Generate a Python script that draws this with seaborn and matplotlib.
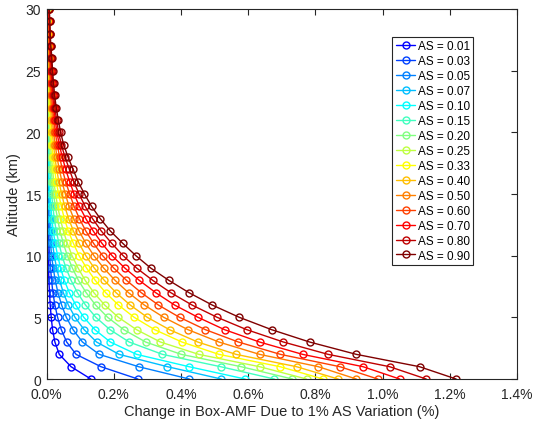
import numpy as np
import pandas as pd
import matplotlib
matplotlib.use("Agg")
import matplotlib.pyplot as plt
import seaborn as sns

# ---- data -------------------------------------------------------------
altitude_km = list(range(0, 31))

as_labels = ["0.01", "0.03", "0.05", "0.07", "0.10", "0.15", "0.20", "0.25",
             "0.33", "0.40", "0.50", "0.60", "0.70", "0.80", "0.90"]

# change in Box-AMF (%) for each surface albedo, altitude 0..30 km
as_001 = [0.132, 0.073, 0.038, 0.025, 0.018, 0.014, 0.011, 0.009, 0.007, 0.006, 0.005,
          0.004, 0.004, 0.003, 0.003, 0.003, 0.002, 0.002, 0.002, 0.002, 0.002,
          0.002, 0.001, 0.001, 0.001, 0.001, 0.001, 0.001, 0.001, 0.001, 0.001]
as_003 = [0.272, 0.162, 0.088, 0.060, 0.044, 0.033, 0.025, 0.019, 0.015, 0.012, 0.009,
          0.007, 0.006, 0.005, 0.004, 0.003, 0.003, 0.002, 0.002, 0.002, 0.002,
          0.002, 0.002, 0.002, 0.001, 0.001, 0.001, 0.001, 0.001, 0.001, 0.001]
as_005 = [0.425, 0.274, 0.157, 0.107, 0.079, 0.059, 0.045, 0.034, 0.026, 0.020, 0.015,
          0.012, 0.009, 0.007, 0.006, 0.005, 0.004, 0.003, 0.003, 0.002, 0.002,
          0.002, 0.002, 0.002, 0.002, 0.001, 0.001, 0.001, 0.001, 0.001, 0.001]
as_007 = [0.520, 0.360, 0.216, 0.149, 0.112, 0.085, 0.065, 0.050, 0.039, 0.030, 0.023,
          0.018, 0.014, 0.011, 0.009, 0.007, 0.006, 0.005, 0.004, 0.003, 0.003,
          0.002, 0.002, 0.002, 0.002, 0.001, 0.001, 0.001, 0.001, 0.001, 0.001]
as_010 = [0.591, 0.424, 0.268, 0.190, 0.144, 0.111, 0.087, 0.068, 0.053, 0.042, 0.033,
          0.026, 0.020, 0.016, 0.013, 0.010, 0.008, 0.006, 0.005, 0.004, 0.004,
          0.003, 0.003, 0.002, 0.002, 0.002, 0.002, 0.002, 0.001, 0.001, 0.001]
as_015 = [0.678, 0.518, 0.345, 0.246, 0.189, 0.147, 0.116, 0.092, 0.073, 0.058, 0.046,
          0.037, 0.029, 0.023, 0.019, 0.015, 0.012, 0.010, 0.008, 0.006, 0.005,
          0.004, 0.004, 0.003, 0.003, 0.002, 0.002, 0.002, 0.002, 0.002, 0.002]
as_020 = [0.732, 0.579, 0.401, 0.295, 0.230, 0.182, 0.146, 0.118, 0.095, 0.077, 0.062,
          0.050, 0.040, 0.033, 0.026, 0.021, 0.017, 0.014, 0.011, 0.009, 0.008,
          0.006, 0.005, 0.005, 0.004, 0.003, 0.003, 0.003, 0.002, 0.002, 0.002]
as_025 = [0.774, 0.634, 0.453, 0.339, 0.268, 0.214, 0.173, 0.141, 0.115, 0.094, 0.076,
          0.062, 0.050, 0.041, 0.033, 0.027, 0.022, 0.018, 0.015, 0.012, 0.010,
          0.008, 0.007, 0.006, 0.005, 0.004, 0.004, 0.003, 0.003, 0.003, 0.003]
as_033 = [0.823, 0.695, 0.513, 0.403, 0.322, 0.261, 0.214, 0.176, 0.145, 0.119, 0.097,
          0.080, 0.065, 0.053, 0.044, 0.036, 0.029, 0.024, 0.020, 0.016, 0.013,
          0.011, 0.009, 0.008, 0.007, 0.006, 0.005, 0.005, 0.004, 0.004, 0.003]
as_040 = [0.868, 0.744, 0.564, 0.450, 0.366, 0.300, 0.249, 0.207, 0.172, 0.142, 0.117,
          0.097, 0.080, 0.066, 0.054, 0.045, 0.037, 0.030, 0.025, 0.021, 0.017,
          0.014, 0.012, 0.010, 0.009, 0.007, 0.006, 0.006, 0.005, 0.005, 0.004]
as_050 = [0.922, 0.809, 0.634, 0.513, 0.421, 0.349, 0.291, 0.244, 0.204, 0.170, 0.141,
          0.117, 0.097, 0.081, 0.067, 0.056, 0.046, 0.038, 0.031, 0.026, 0.021,
          0.018, 0.015, 0.012, 0.011, 0.009, 0.008, 0.007, 0.006, 0.006, 0.005]
as_060 = [0.986, 0.873, 0.696, 0.571, 0.473, 0.396, 0.333, 0.282, 0.238, 0.200, 0.167,
          0.140, 0.117, 0.098, 0.082, 0.069, 0.057, 0.047, 0.039, 0.032, 0.026,
          0.022, 0.018, 0.015, 0.013, 0.011, 0.010, 0.009, 0.008, 0.007, 0.006]
as_070 = [1.051, 0.942, 0.762, 0.634, 0.530, 0.451, 0.381, 0.325, 0.276, 0.233, 0.195,
          0.165, 0.139, 0.117, 0.098, 0.082, 0.069, 0.057, 0.047, 0.038, 0.031,
          0.026, 0.022, 0.018, 0.016, 0.014, 0.012, 0.010, 0.009, 0.008, 0.007]
as_080 = [1.130, 1.021, 0.838, 0.705, 0.596, 0.508, 0.433, 0.370, 0.316, 0.268, 0.228,
          0.194, 0.163, 0.137, 0.115, 0.097, 0.081, 0.068, 0.055, 0.044, 0.036,
          0.030, 0.025, 0.021, 0.018, 0.016, 0.014, 0.012, 0.010, 0.009, 0.008]
as_090 = [1.219, 1.110, 0.922, 0.783, 0.670, 0.574, 0.493, 0.424, 0.364, 0.310, 0.266,
          0.227, 0.190, 0.160, 0.134, 0.113, 0.094, 0.079, 0.064, 0.051, 0.042,
          0.035, 0.029, 0.024, 0.021, 0.018, 0.016, 0.013, 0.011, 0.010, 0.008]

series = [as_001, as_003, as_005, as_007, as_010, as_015, as_020, as_025,
          as_033, as_040, as_050, as_060, as_070, as_080, as_090]

x_ticks = [0.0, 0.2, 0.4, 0.6, 0.8, 1.0, 1.2, 1.4]
x_tick_labels = ["0.0%", "0.2%", "0.4%", "0.6%", "0.8%", "1.0%", "1.2%", "1.4%"]
y_ticks = [0, 5, 10, 15, 20, 25, 30]

# ---- long-form table ----------------------------------------------------
rows = []
for lab, vals in zip(as_labels, series):
    for alt, v in zip(altitude_km, vals):
        rows.append({"AS": f"AS = {lab}", "alt": alt, "val": v})
df = pd.DataFrame(rows)

# MATLAB jet(16) without the first (dark blue) entry
jet_colors = [(0, 0, 1), (0, .25, 1), (0, .5, 1), (0, .75, 1), (0, 1, 1),
              (.25, 1, .75), (.5, 1, .5), (.75, 1, .25), (1, 1, 0), (1, .75, 0),
              (1, .5, 0), (1, .25, 0), (1, 0, 0), (.75, 0, 0), (.5, 0, 0)]
hue_order = [f"AS = {l}" for l in as_labels]
palette = dict(zip(hue_order, jet_colors))

# ---- plot ---------------------------------------------------------------
sns.set_theme(style="white")
plt.rcParams["font.family"] = ["Liberation Sans", "DejaVu Sans"]

fig = plt.figure(figsize=(5.34, 4.27), dpi=100)
ax = fig.add_axes([0.0871, 0.110, 0.8810, 0.8666])

sns.lineplot(data=df, x="val", y="alt", hue="AS", hue_order=hue_order,
             palette=palette, estimator=None, sort=False, orient="y",
             marker="o", markersize=5, linewidth=1.0, ax=ax, legend=False)

for line in ax.lines:
    c = line.get_color()
    line.set_markerfacecolor("none")
    line.set_markeredgecolor(c)
    line.set_markeredgewidth(1.0)
    line.set_clip_on(True)

ax.set_xlim(0, 1.4)
ax.set_ylim(0, 30)
ax.set_xticks(x_ticks)
ax.set_xticklabels(x_tick_labels)
ax.set_yticks(y_ticks)

txt = (0.15, 0.15, 0.15)
ax.set_xlabel("Change in Box-AMF Due to 1% AS Variation (%)", fontsize=10.5,
              color=txt, labelpad=2)
ax.set_ylabel("Altitude (km)", fontsize=10.5, color=txt, labelpad=3)
ax.tick_params(axis="x", pad=6)
ax.tick_params(axis="y", pad=4)
ax.tick_params(axis="both", which="both", direction="in", length=4, width=0.8,
               colors=txt, labelsize=10, top=True, right=True,
               bottom=True, left=True)
for s in ax.spines.values():
    s.set_visible(True)
    s.set_color(txt)
    s.set_linewidth(0.8)

handles = list(ax.lines)
leg = ax.legend(handles, hue_order, loc="upper left",
                bbox_to_anchor=(0.735, 0.925), fontsize=8.5, frameon=True,
                fancybox=False, framealpha=1, edgecolor=txt,
                handlelength=1.65, handletextpad=0.2, labelspacing=0.25,
                borderpad=0.3, borderaxespad=0.0)
leg.get_frame().set_linewidth(0.8)
for t in leg.get_texts():
    t.set_color("black")

fig.savefig("out.png", dpi=100)
